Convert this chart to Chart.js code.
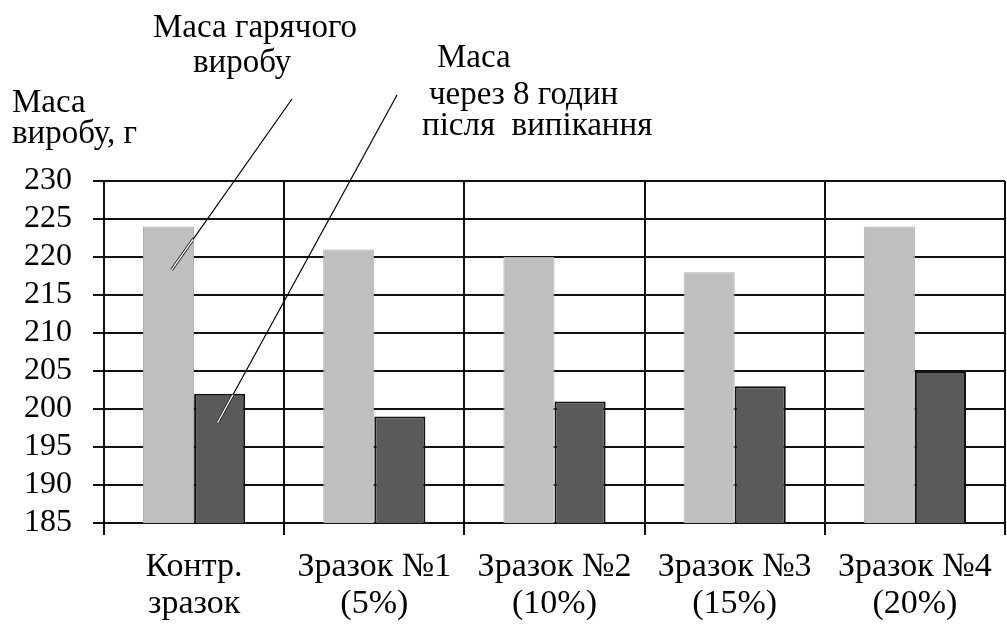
<!DOCTYPE html>
<html>
<head>
<meta charset="utf-8">
<script src="https://cdn.jsdelivr.net/npm/chart.js@4"></script>
<style>
  html, body { margin: 0; padding: 0; background: #fff; }
  #wrap { width: 1007px; height: 628px; }
</style>
</head>
<body>
<div id="wrap"><canvas id="massChart" width="1007" height="628"></canvas></div>
<script>
// Data
const categories = [
  ["Контр.", "зразок"],
  ["Зразок №1", "(5%)"],
  ["Зразок №2", "(10%)"],
  ["Зразок №3", "(15%)"],
  ["Зразок №4", "(20%)"]
];
const hotMass = [224, 221, 220, 218, 224];
const mass8h = [202, 199, 201, 203, 205];
const yTicks = [185, 190, 195, 200, 205, 210, 215, 220, 225, 230];

const serif = "'Liberation Serif', 'Times New Roman', serif";

// draws a leader line; the part inside the bar gets a light core
function leader(ctx, x0, y0, x1, y1, bar) {
  ctx.strokeStyle = "#000";
  ctx.lineWidth = 1.2;
  ctx.beginPath();
  ctx.moveTo(x0, y0);
  ctx.lineTo(x1, y1);
  ctx.stroke();

  ctx.save();
  ctx.beginPath();
  ctx.rect(bar.x - bar.width / 2 + 1, bar.y + 1, bar.width - 2, bar.base - bar.y - 2);
  ctx.clip();
  ctx.beginPath();
  ctx.moveTo(x0, y0);
  ctx.lineTo(x1, y1);
  ctx.lineWidth = 3;
  ctx.strokeStyle = "#222";
  ctx.stroke();
  ctx.lineWidth = 1.3;
  ctx.strokeStyle = "#fff";
  ctx.stroke();
  ctx.restore();
}

// Annotation texts and leader lines
const calloutPlugin = {
  id: "callouts",
  afterDatasetsDraw(chart) {
    const ctx = chart.ctx;
    const y = chart.scales.y;
    const hotBar = chart.getDatasetMeta(0).data[0];
    const coldBar = chart.getDatasetMeta(1).data[0];

    ctx.save();
    ctx.fillStyle = "#000";
    ctx.textBaseline = "alphabetic";
    ctx.textAlign = "left";
    ctx.font = "33px " + serif;

    // y axis title
    ctx.fillText("Маса", 12, 112);
    ctx.fillText("виробу, г", 12, 143);

    // hot mass label
    ctx.fillText("Маса гарячого", 153, 37);
    ctx.fillText("виробу", 193, 72);

    // 8 hours label
    ctx.fillText("Маса", 437, 67);
    ctx.fillText("через 8 годин", 429, 104);
    ctx.fillText("після  випікання", 422, 135);

    // leader lines
    leader(ctx, 292, 99, hotBar.x + 3, y.getPixelForValue(218.3), hotBar);
    leader(ctx, 397, 95, coldBar.x - 2, y.getPixelForValue(198.2), coldBar);
    ctx.restore();
  }
};

new Chart(document.getElementById("massChart"), {
  type: "bar",
  data: {
    labels: categories,
    datasets: [
      {
        label: "Маса гарячого виробу",
        data: hotMass,
        backgroundColor: "#bfbfbf",
        borderColor: "#adadad",
        borderWidth: 1,
        categoryPercentage: 0.567,
        barPercentage: 1
      },
      {
        label: "Маса через 8 годин після випікання",
        data: mass8h,
        backgroundColor: "#5a5a5a",
        borderColor: "#111",
        borderWidth: 2,
        categoryPercentage: 0.567,
        barPercentage: 1
      }
    ]
  },
  options: {
    responsive: false,
    animation: false,
    layout: { padding: { top: 181, right: 2, left: 0, bottom: 0 } },
    plugins: {
      legend: { display: false },
      tooltip: { enabled: false }
    },
    scales: {
      x: {
        grid: { color: "#111", lineWidth: 2, tickLength: 12, offset: true },
        border: { color: "#111", width: 2 },
        ticks: {
          color: "#000",
          font: { family: serif, size: 34, lineHeight: 1.1 },
          padding: 13,
          maxRotation: 0,
          autoSkip: false
        },
        afterFit(scale) { scale.height = 105; }
      },
      y: {
        min: yTicks[0],
        max: yTicks[yTicks.length - 1],
        grid: { color: "#111", lineWidth: 2, tickLength: 11 },
        border: { color: "#111", width: 2 },
        ticks: {
          stepSize: yTicks[1] - yTicks[0],
          autoSkip: false,
          color: "#000",
          font: { family: serif, size: 32 },
          padding: 21
        },
        afterFit(scale) { scale.width = 104; }
      }
    }
  },
  plugins: [calloutPlugin]
});
</script>
</body>
</html>
